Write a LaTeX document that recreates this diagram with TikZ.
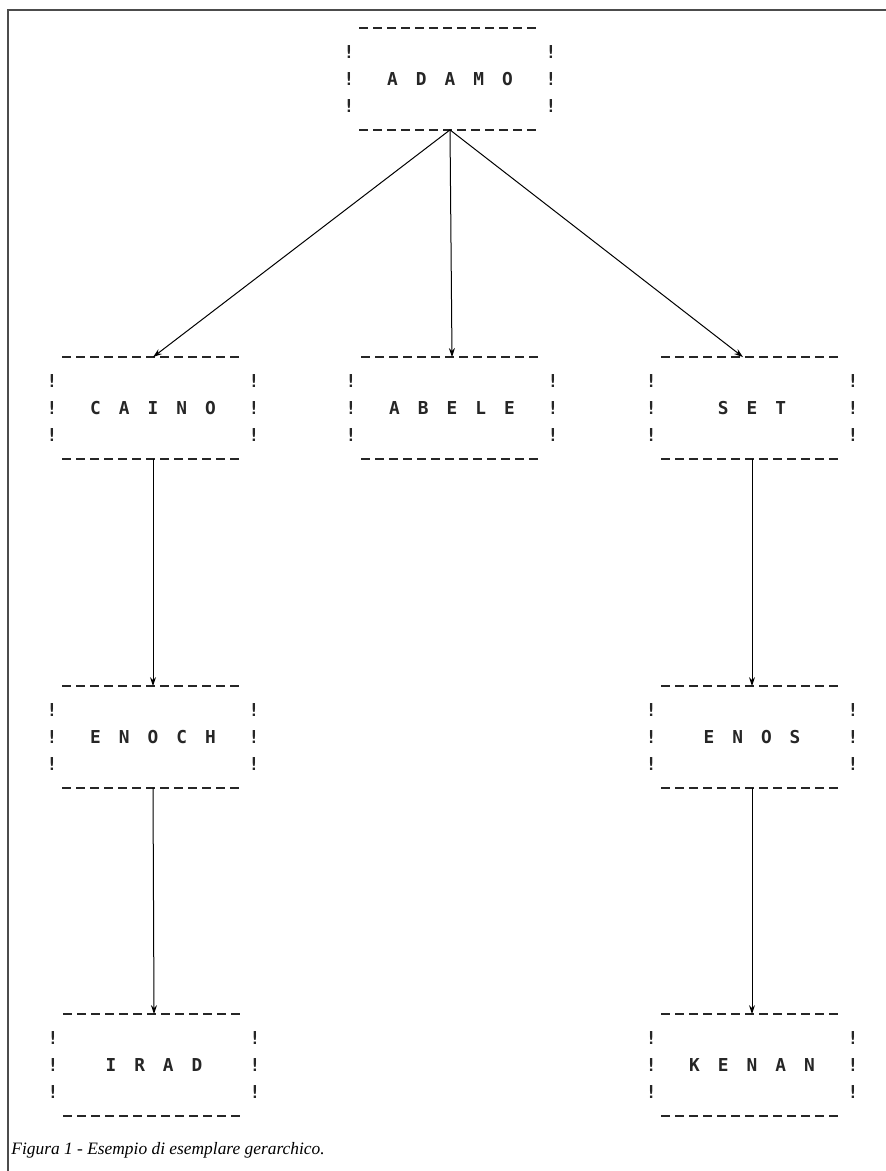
\documentclass[tikz,border=0pt]{standalone}
\usepackage{fontspec}
\setmainfont{Liberation Serif}
\newfontfamily\printfont{DejaVu Sans Mono}
\usepackage{tikz}
\usetikzlibrary{arrows.meta,positioning}
\newcommand{\letgap}{\hspace{9pt}}

\begin{document}
\begin{tikzpicture}[x=0.5pt, y=-0.5pt, >={Stealth[length=4.5pt,width=3pt]},
    record/.style={minimum width=90.5pt, minimum height=50.5pt, inner sep=0pt,
      font=\printfont\bfseries\fontsize{8.9}{10}\selectfont, text=black!85},
    bang/.style={inner sep=0pt, font=\printfont\bfseries\fontsize{8.9}{10}\selectfont, text=black!85},
    dashline/.style={line width=1.2pt, dash pattern=on 4.5pt off 2.5pt, black!85},
    link/.style={->, line width=0.5pt},
    frame/.style={line width=1.2pt, gray!60!black}]
  \useasboundingbox (0,0) rectangle (886,1171);
  \draw[frame] (886,10) -- (8,10) -- (8,1171);

  \node[record] (adamo) at (450,79) {A\letgap D\letgap A\letgap M\letgap O};
  \node[record] (caino) at (153,408) {C\letgap A\letgap I\letgap N\letgap O};
  \node[record] (abele) at (452,408) {A\letgap B\letgap E\letgap L\letgap E};
  \node[record] (set) at (752,408) {S\letgap E\letgap T};
  \node[record] (enoch) at (153,737) {E\letgap N\letgap O\letgap C\letgap H};
  \node[record] (enos) at (752,737) {E\letgap N\letgap O\letgap S};
  \node[record] (irad) at (154,1065) {I\letgap R\letgap A\letgap D};
  \node[record] (kenan) at (752,1065) {K\letgap E\letgap N\letgap A\letgap N};

  \foreach \n in {adamo,caino,abele,set,enoch,enos,irad,kenan} {
    \draw[dashline] (\n.north west) -- (\n.north east);
    \draw[dashline] (\n.south west) -- (\n.south east);
    \foreach \dy in {-13.5,0,13.5} {
      \node[bang] at ([xshift=-5pt, yshift=\dy pt]\n.west) {!};
      \node[bang] at ([xshift=5pt, yshift=\dy pt]\n.east) {!};
    }
  }

  \draw[link] (adamo.south) -- (caino.north);
  \draw[link] (adamo.south) -- (abele.north);
  \draw[link] (adamo.south) -- ([xshift=-4.5pt]set.north);
  \draw[link] (caino.south) -- (enoch.north);
  \draw[link] (enoch.south) -- (irad.north);
  \draw[link] (set.south) -- (enos.north);
  \draw[link] (enos.south) -- (kenan.north);

  \node[anchor=west, inner sep=0pt, font=\itshape\fontsize{8.7}{10}\selectfont]
    (caption) at (11,1150) {Figura 1 - Esempio di esemplare gerarchico.};
\end{tikzpicture}
\end{document}
